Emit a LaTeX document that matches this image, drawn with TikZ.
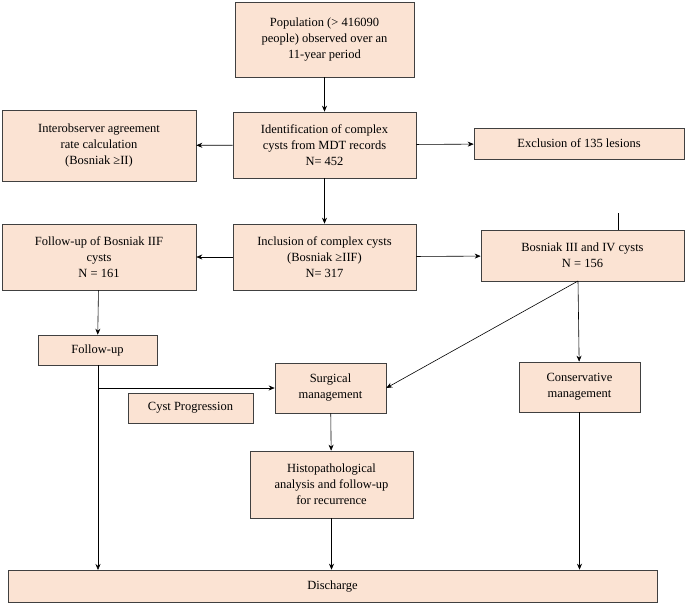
\documentclass[tikz,border=0pt]{standalone}
\usepackage{fontspec}
\setmainfont{Liberation Serif}
\usetikzlibrary{arrows.meta}
\begin{document}
\begin{tikzpicture}[x=1pt,y=-1pt,
  box/.style={draw=black!75,fill=boxfill,line width=0.6pt,align=center,font=\fontsize{12.5}{16}\selectfont,inner sep=0pt},
  arr/.style={-{Stealth[length=6pt,width=5pt]},line width=0.6pt}]
\definecolor{boxfill}{HTML}{FBE3D3}
\useasboundingbox (0,0) rectangle (685,606);
\newcommand\bx[6]{\node[box,minimum width=#4-#2,minimum height=#5-#3] (#1) at ({(#2+#4)/2},{(#3+#5)/2}) {#6};}
\bx{pop}{235}{2}{414}{77}{Population (> 416090\\people) observed over an\\11-year period}
\bx{inter}{2}{110}{196}{181}{Interobserver agreement\\rate calculation\\(Bosniak ≥II)}
\bx{ident}{233}{112}{416}{178}{Identification of complex\\cysts from MDT records\\N= 452}
\bx{excl}{474}{128}{684}{159}{Exclusion of 135 lesions}
\bx{fiif}{2}{224}{196}{290}{Follow-up of Bosniak IIF\\cysts\\N = 161}
\bx{incl}{233}{224}{416}{290}{Inclusion of complex cysts\\(Bosniak ≥IIF)\\N= 317}
\bx{b34}{481}{230}{684}{281}{Bosniak III and IV cysts\\N = 156}
\bx{fu}{38}{335}{157}{365}{Follow-up}
\bx{surg}{275}{363}{386}{413}{Surgical\\management}
\bx{cyst}{128}{393}{253}{423}{Cyst Progression}
\bx{cons}{519}{362}{640}{412}{Conservative\\management}
\bx{histo}{250}{451}{413}{518}{Histopathological\\analysis and follow-up\\for recurrence}
\bx{dis}{8}{570}{657}{602}{Discharge}
\coordinate (tick) at (618,213);
\draw[line width=0.6pt] (tick) -- (618,230);
\draw[arr] (pop) -- (ident);
\draw[arr] (ident) -- (inter);
\draw[arr] (ident) -- (excl);
\draw[arr] (ident) -- (incl);
\draw[arr] (incl) -- (fiif);
\draw[arr] (incl) -- (b34);
\draw[arr] (fiif) -- (fu);
\coordinate (fb) at (98,365);
\coordinate (fj) at (98,388);
\draw[arr] (fb) -- (98,570);
\draw[arr] (fj) -- (surg.west);
\coordinate (bb) at (578,281);
\draw[arr] (bb) -- (surg.east);
\draw[arr] (bb) -- (cons);
\draw[arr] (surg) -- (histo);
\draw[arr] (histo) -- (histo|-dis.north);
\draw[arr] (cons) -- (cons|-dis.north);
\end{tikzpicture}
\end{document}
